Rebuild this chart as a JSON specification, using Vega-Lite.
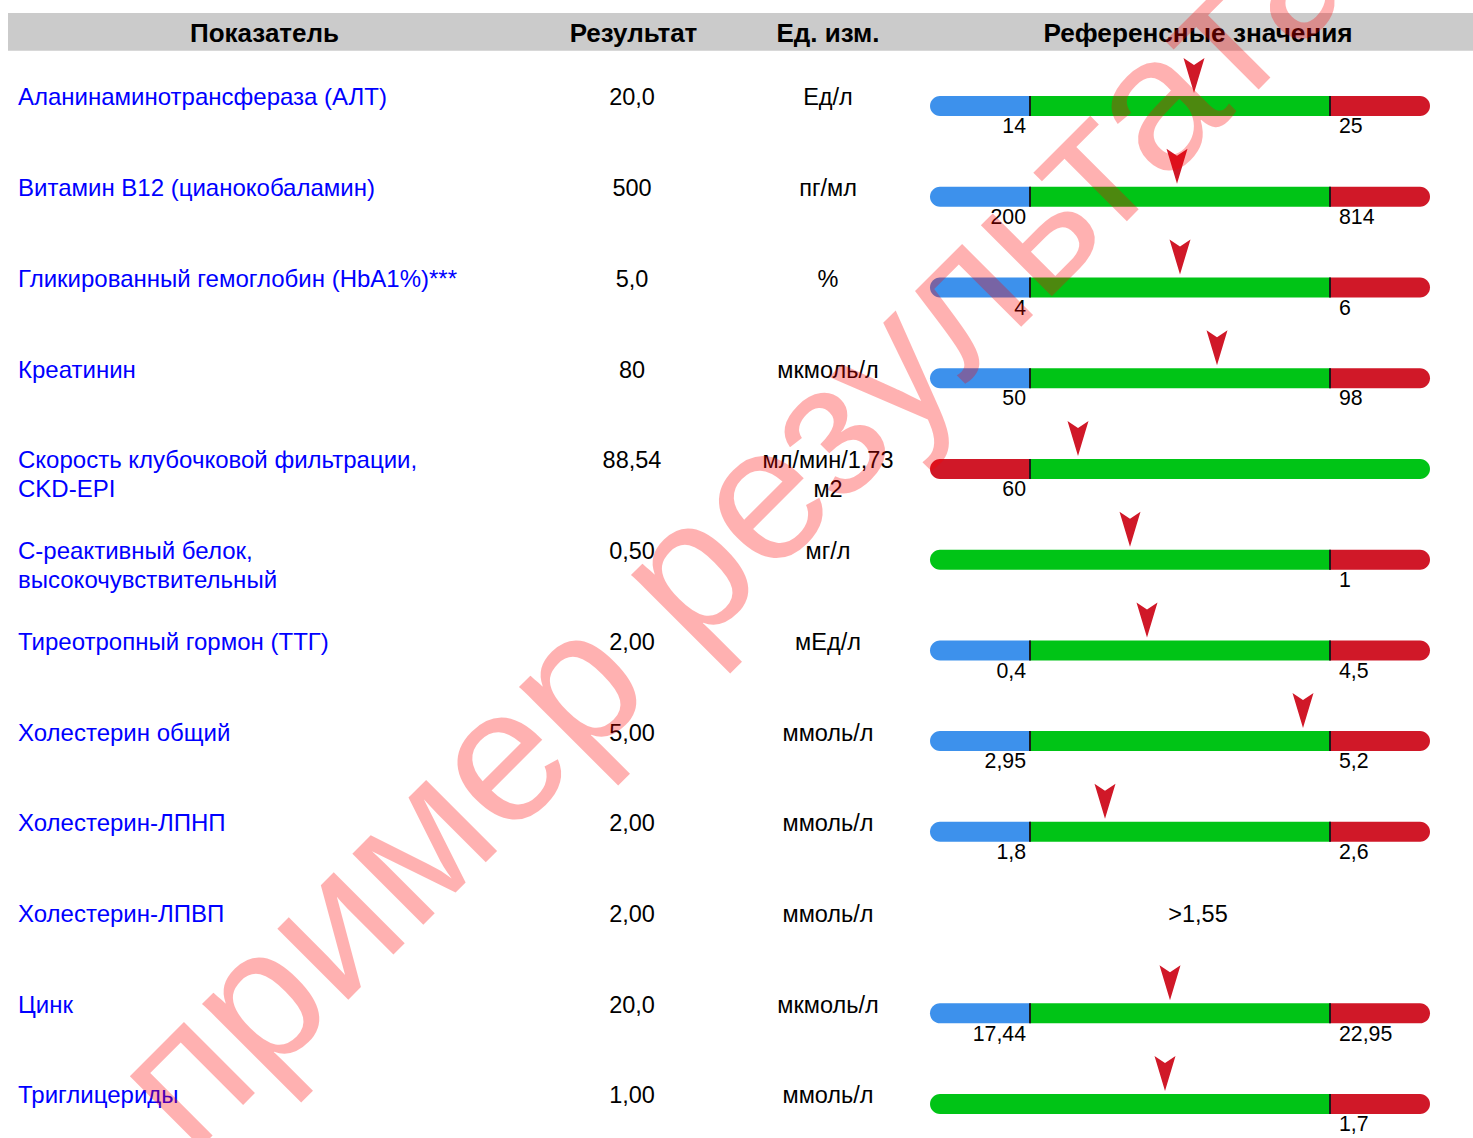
{
  "$schema": "https://vega.github.io/schema/vega-lite/v6.json",
  "width": 1473,
  "height": 1138,
  "padding": 0,
  "autosize": {"type": "none"},
  "background": "white",
  "config": {"view": {"stroke": null}, "font": "Liberation Sans, Arial, sans-serif"},
  "datasets": {
    "tests": [
      {"row": 1, "name": "Аланинаминотрансфераза (АЛТ)", "result": "20,0", "unit": "Ед/л", "pos": 52.8, "ref": ""},
      {"row": 2, "name": "Витамин B12 (цианокобаламин)", "result": "500", "unit": "пг/мл", "pos": 49.4, "ref": ""},
      {"row": 3, "name": "Гликированный гемоглобин (HbA1%)***", "result": "5,0", "unit": "%", "pos": 50, "ref": ""},
      {"row": 4, "name": "Креатинин", "result": "80", "unit": "мкмоль/л", "pos": 57.4, "ref": ""},
      {"row": 5, "name": "Скорость клубочковой фильтрации,\nCKD-EPI", "result": "88,54", "unit": "мл/мин/1,73\nм2", "pos": 29.6, "ref": ""},
      {"row": 6, "name": "С-реактивный белок,\nвысокочувствительный", "result": "0,50", "unit": "мг/л", "pos": 40, "ref": ""},
      {"row": 7, "name": "Тиреотропный гормон (ТТГ)", "result": "2,00", "unit": "мЕд/л", "pos": 43.4, "ref": ""},
      {"row": 8, "name": "Холестерин общий", "result": "5,00", "unit": "ммоль/л", "pos": 74.6, "ref": ""},
      {"row": 9, "name": "Холестерин-ЛПНП", "result": "2,00", "unit": "ммоль/л", "pos": 35, "ref": ""},
      {"row": 10, "name": "Холестерин-ЛПВП", "result": "2,00", "unit": "ммоль/л", "pos": null, "ref": ">1,55"},
      {"row": 11, "name": "Цинк", "result": "20,0", "unit": "мкмоль/л", "pos": 48, "ref": ""},
      {"row": 12, "name": "Триглицериды", "result": "1,00", "unit": "ммоль/л", "pos": 47, "ref": ""}
    ],
    "segments": [
      {"row": 1, "start": 0, "end": 20, "kind": "ниже"}, {"row": 1, "start": 20, "end": 80, "kind": "норма"}, {"row": 1, "start": 80, "end": 100, "kind": "выше"},
      {"row": 2, "start": 0, "end": 20, "kind": "ниже"}, {"row": 2, "start": 20, "end": 80, "kind": "норма"}, {"row": 2, "start": 80, "end": 100, "kind": "выше"},
      {"row": 3, "start": 0, "end": 20, "kind": "ниже"}, {"row": 3, "start": 20, "end": 80, "kind": "норма"}, {"row": 3, "start": 80, "end": 100, "kind": "выше"},
      {"row": 4, "start": 0, "end": 20, "kind": "ниже"}, {"row": 4, "start": 20, "end": 80, "kind": "норма"}, {"row": 4, "start": 80, "end": 100, "kind": "выше"},
      {"row": 5, "start": 0, "end": 20, "kind": "выше"}, {"row": 5, "start": 20, "end": 100, "kind": "норма"},
      {"row": 6, "start": 0, "end": 80, "kind": "норма"}, {"row": 6, "start": 80, "end": 100, "kind": "выше"},
      {"row": 7, "start": 0, "end": 20, "kind": "ниже"}, {"row": 7, "start": 20, "end": 80, "kind": "норма"}, {"row": 7, "start": 80, "end": 100, "kind": "выше"},
      {"row": 8, "start": 0, "end": 20, "kind": "ниже"}, {"row": 8, "start": 20, "end": 80, "kind": "норма"}, {"row": 8, "start": 80, "end": 100, "kind": "выше"},
      {"row": 9, "start": 0, "end": 20, "kind": "ниже"}, {"row": 9, "start": 20, "end": 80, "kind": "норма"}, {"row": 9, "start": 80, "end": 100, "kind": "выше"},
      {"row": 11, "start": 0, "end": 20, "kind": "ниже"}, {"row": 11, "start": 20, "end": 80, "kind": "норма"}, {"row": 11, "start": 80, "end": 100, "kind": "выше"},
      {"row": 12, "start": 0, "end": 80, "kind": "норма"}, {"row": 12, "start": 80, "end": 100, "kind": "выше"}
    ],
    "thresholds": [
      {"row": 1, "at": 20, "label": "14", "side": "lo"}, {"row": 1, "at": 80, "label": "25", "side": "hi"},
      {"row": 2, "at": 20, "label": "200", "side": "lo"}, {"row": 2, "at": 80, "label": "814", "side": "hi"},
      {"row": 3, "at": 20, "label": "4", "side": "lo"}, {"row": 3, "at": 80, "label": "6", "side": "hi"},
      {"row": 4, "at": 20, "label": "50", "side": "lo"}, {"row": 4, "at": 80, "label": "98", "side": "hi"},
      {"row": 5, "at": 20, "label": "60", "side": "lo"},
      {"row": 6, "at": 80, "label": "1", "side": "hi"},
      {"row": 7, "at": 20, "label": "0,4", "side": "lo"}, {"row": 7, "at": 80, "label": "4,5", "side": "hi"},
      {"row": 8, "at": 20, "label": "2,95", "side": "lo"}, {"row": 8, "at": 80, "label": "5,2", "side": "hi"},
      {"row": 9, "at": 20, "label": "1,8", "side": "lo"}, {"row": 9, "at": 80, "label": "2,6", "side": "hi"},
      {"row": 11, "at": 20, "label": "17,44", "side": "lo"}, {"row": 11, "at": 80, "label": "22,95", "side": "hi"},
      {"row": 12, "at": 80, "label": "1,7", "side": "hi"}
    ],
    "header": [{"title": "Показатель"}, {"title": "Результат"}, {"title": "Ед. изм."}, {"title": "Референсные значения"}, {"title": "пример результата"}]
  },
  "layer": [
    {
      "data": {"values": [{}]},
      "mark": {"type": "rect", "color": "#cbcbcb"},
      "encoding": {
        "x": {"datum": -184.4, "type": "quantitative", "scale": {"domain": [-186, 108.6], "nice": false, "zero": false, "padding": 0}, "axis": null},
        "x2": {"datum": 108.6},
        "y": {"datum": 0.0587, "type": "quantitative", "scale": {"domain": [-0.0845, 12.458], "reverse": true, "nice": false, "zero": false, "padding": 0}, "axis": null},
        "y2": {"datum": 0.4743}
      }
    },
    {
      "data": {"name": "header"},
      "transform": [{"filter": "datum.title == 'Показатель'"}],
      "mark": {"type": "text", "fontSize": 26, "fontWeight": "bold", "color": "black", "align": "center", "baseline": "middle"},
      "encoding": {"x": {"datum": -133.1, "type": "quantitative"}, "y": {"datum": 0.2924, "type": "quantitative"}, "text": {"field": "title"}}
    },
    {
      "data": {"name": "header"},
      "transform": [{"filter": "datum.title == 'Результат'"}],
      "mark": {"type": "text", "fontSize": 26, "fontWeight": "bold", "color": "black", "align": "center", "baseline": "middle"},
      "encoding": {"x": {"datum": -59.3, "type": "quantitative"}, "y": {"datum": 0.2924, "type": "quantitative"}, "text": {"field": "title"}}
    },
    {
      "data": {"name": "header"},
      "transform": [{"filter": "datum.title == 'Ед. изм.'"}],
      "mark": {"type": "text", "fontSize": 26, "fontWeight": "bold", "color": "black", "align": "center", "baseline": "middle"},
      "encoding": {"x": {"datum": -20.4, "type": "quantitative"}, "y": {"datum": 0.2924, "type": "quantitative"}, "text": {"field": "title"}}
    },
    {
      "data": {"name": "header"},
      "transform": [{"filter": "datum.title == 'Референсные значения'"}],
      "mark": {"type": "text", "fontSize": 26.2, "fontWeight": "bold", "color": "black", "align": "center", "baseline": "middle"},
      "encoding": {"x": {"datum": 53.6, "type": "quantitative"}, "y": {"datum": 0.2924, "type": "quantitative"}, "text": {"field": "title"}}
    },
    {
      "data": {"name": "segments"},
      "transform": [{"filter": "datum.start == 0"}],
      "mark": {"type": "bar", "orient": "horizontal", "size": 20, "yOffset": 7.6, "cornerRadiusTopLeft": 10, "cornerRadiusBottomLeft": 10},
      "encoding": {
        "x": {"field": "start", "type": "quantitative"}, "x2": {"field": "end"},
        "y": {"field": "row", "type": "quantitative"},
        "color": {"field": "kind", "type": "nominal", "scale": {"domain": ["ниже", "норма", "выше"], "range": ["#3d91ec", "#00c416", "#d01828"]}, "legend": null}
      }
    },
    {
      "data": {"name": "segments"},
      "transform": [{"filter": "datum.start > 0 && datum.end == 100"}],
      "mark": {"type": "bar", "orient": "horizontal", "size": 20, "yOffset": 7.6, "cornerRadiusTopRight": 10, "cornerRadiusBottomRight": 10},
      "encoding": {
        "x": {"field": "start", "type": "quantitative"}, "x2": {"field": "end"},
        "y": {"field": "row", "type": "quantitative"},
        "color": {"field": "kind", "type": "nominal", "legend": null}
      }
    },
    {
      "data": {"name": "segments"},
      "transform": [{"filter": "datum.start > 0 && datum.end < 100"}],
      "mark": {"type": "bar", "orient": "horizontal", "size": 20, "yOffset": 7.6},
      "encoding": {
        "x": {"field": "start", "type": "quantitative"}, "x2": {"field": "end"},
        "y": {"field": "row", "type": "quantitative"},
        "color": {"field": "kind", "type": "nominal", "legend": null}
      }
    },
    {
      "data": {"name": "thresholds"},
      "mark": {"type": "tick", "orient": "vertical", "size": 20, "thickness": 2, "color": "#1a1a1a", "opacity": 1, "yOffset": 7.6},
      "encoding": {
        "x": {"field": "at", "type": "quantitative"},
        "y": {"field": "row", "type": "quantitative"}
      }
    },
    {
      "data": {"name": "thresholds"},
      "transform": [{"filter": "datum.side == 'lo'"}],
      "mark": {"type": "text", "fontSize": 21.3, "color": "black", "align": "right", "baseline": "middle", "dx": -4, "dy": 28.9},
      "encoding": {"x": {"field": "at", "type": "quantitative"}, "y": {"field": "row", "type": "quantitative"}, "text": {"field": "label"}}
    },
    {
      "data": {"name": "thresholds"},
      "transform": [{"filter": "datum.side == 'hi'"}],
      "mark": {"type": "text", "fontSize": 21.3, "color": "black", "align": "left", "baseline": "middle", "dx": 9, "dy": 28.9},
      "encoding": {"x": {"field": "at", "type": "quantitative"}, "y": {"field": "row", "type": "quantitative"}, "text": {"field": "label"}}
    },
    {
      "data": {"name": "tests"},
      "transform": [{"filter": "datum.pos != null"}],
      "mark": {"type": "point", "shape": "M-0.6,-1L0,-0.6L0.6,-1L0,1Z", "filled": true, "size": 1225, "color": "#d01828", "opacity": 1, "strokeWidth": 0, "yOffset": -22.9},
      "encoding": {"x": {"field": "pos", "type": "quantitative"}, "y": {"field": "row", "type": "quantitative"}}
    },
    {
      "data": {"name": "tests"},
      "mark": {"type": "text", "fontSize": 24, "color": "#0000ff", "align": "left", "baseline": "middle", "lineBreak": "\n", "lineHeight": 29},
      "encoding": {"x": {"datum": -182.4, "type": "quantitative"}, "y": {"field": "row", "type": "quantitative"}, "text": {"field": "name"}}
    },
    {
      "data": {"name": "tests"},
      "mark": {"type": "text", "fontSize": 23.5, "color": "black", "align": "center", "baseline": "middle"},
      "encoding": {"x": {"datum": -59.6, "type": "quantitative"}, "y": {"field": "row", "type": "quantitative"}, "text": {"field": "result"}}
    },
    {
      "data": {"name": "tests"},
      "mark": {"type": "text", "fontSize": 23.5, "color": "black", "align": "center", "baseline": "middle", "lineBreak": "\n", "lineHeight": 29},
      "encoding": {"x": {"datum": -20.4, "type": "quantitative"}, "y": {"field": "row", "type": "quantitative"}, "text": {"field": "unit"}}
    },
    {
      "data": {"name": "tests"},
      "transform": [{"filter": "datum.ref != ''"}],
      "mark": {"type": "text", "fontSize": 23.5, "color": "black", "align": "center", "baseline": "middle"},
      "encoding": {"x": {"datum": 53.6, "type": "quantitative"}, "y": {"field": "row", "type": "quantitative"}, "text": {"field": "ref"}}
    },
    {
      "data": {"name": "header"},
      "transform": [{"filter": "datum.title == 'пример результата'"}],
      "mark": {"type": "text", "fontSize": 190, "color": "#ff0000", "opacity": 0.3, "angle": 315, "align": "center", "baseline": "alphabetic"},
      "encoding": {"x": {"datum": -30, "type": "quantitative"}, "y": {"datum": 6.176, "type": "quantitative"}, "text": {"field": "title"}}
    }
  ]
}
